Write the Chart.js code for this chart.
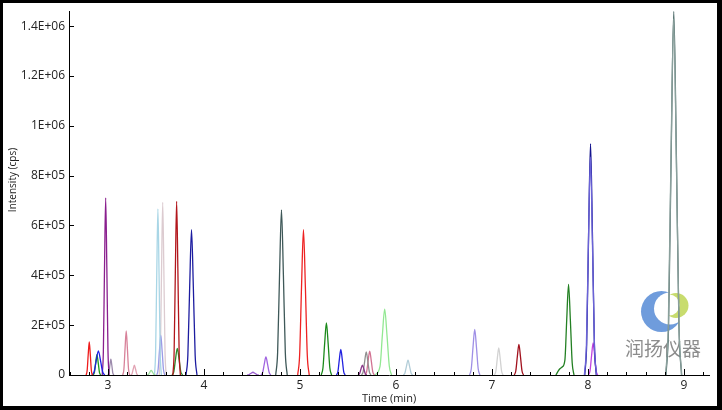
<!DOCTYPE html>
<html>
<head>
<meta charset="utf-8">
<script src="https://cdn.jsdelivr.net/npm/chart.js@4.4.1/dist/chart.umd.min.js"></script>
<style>
    html, body { margin: 0; padding: 0; background: #fff; }
    canvas { display: block; }
</style>
</head>
<body>
<canvas id="chromChart" width="722" height="410"></canvas>
<script>
// Eixos: posições dos ticks (min) e rótulos de intensidade
const xTicks = [2.6, 2.8, 3, 3.2, 3.4, 3.6, 3.8, 4, 4.2, 4.4, 4.6, 4.8, 5, 5.2, 5.4, 5.6, 5.8,
    6, 6.2, 6.4, 6.6, 6.8, 7, 7.2, 7.4, 7.6, 7.8, 8, 8.2, 8.4, 8.6, 8.8, 9, 9.2];
const yTicks = [0, 200000, 400000, 600000, 800000, 1000000, 1200000, 1400000];
const yTickLabels = ['0', '2E+05', '4E+05', '6E+05', '8E+05', '1E+06', '1.2E+06', '1.4E+06'];

// Cada traço: tempos de retenção (min) e intensidades (cps)
const t01 = [2.772, 2.783, 2.794, 2.805, 2.816, 2.827, 2.838];
const i01 = [0, 18000, 81000, 133000, 81000, 18000, 0];
const t02 = [2.834, 2.856, 2.878, 2.900, 2.922, 2.944, 2.966];
const i02 = [0, 13000, 59000, 97000, 59000, 13000, 0];
const t03 = [2.846, 2.859, 2.872, 2.885, 2.898, 2.911, 2.924];
const i03 = [0, 11000, 50000, 82000, 50000, 11000, 0];
const t04 = [2.940, 2.952, 2.964, 2.976, 2.988, 3.000, 3.012];
const i04 = [0, 96000, 432000, 711000, 432000, 96000, 0];
const t05 = [3.000, 3.010, 3.020, 3.030, 3.040, 3.050, 3.060];
const i05 = [0, 9000, 39000, 64000, 39000, 9000, 0];
const t06 = [3.154, 3.166, 3.178, 3.190, 3.202, 3.214, 3.226];
const i06 = [0, 24000, 107000, 177000, 107000, 24000, 0];
const t07 = [3.239, 3.251, 3.263, 3.275, 3.287, 3.299, 3.311];
const i07 = [0, 5000, 24000, 40000, 24000, 5000, 0];
const t08 = [3.405, 3.420, 3.435, 3.450, 3.465, 3.480, 3.495];
const i08 = [0, 2000, 11000, 18000, 11000, 2000, 0];
const t09 = [3.484, 3.496, 3.508, 3.520, 3.532, 3.544, 3.556];
const i09 = [0, 90000, 405000, 667000, 405000, 90000, 0];
const t10 = [3.508, 3.522, 3.536, 3.550, 3.564, 3.578, 3.592];
const i10 = [0, 22000, 97000, 160000, 97000, 22000, 0];
const t11 = [3.534, 3.546, 3.558, 3.570, 3.582, 3.594, 3.606];
const i11 = [0, 94000, 421000, 693000, 421000, 94000, 0];
const t12 = [3.676, 3.689, 3.702, 3.715, 3.728, 3.741, 3.754];
const i12 = [0, 94000, 423000, 697000, 423000, 94000, 0];
const t13 = [3.668, 3.686, 3.704, 3.722, 3.740, 3.758, 3.776];
const i13 = [0, 14000, 65000, 107000, 65000, 14000, 0];
const t14 = [3.813, 3.832, 3.851, 3.870, 3.889, 3.908, 3.927];
const i14 = [0, 79000, 354000, 583000, 354000, 79000, 0];
const t15 = [4.450, 4.470, 4.490, 4.510, 4.530, 4.550, 4.570];
const i15 = [0, 1500, 7000, 11000, 7000, 1500, 0];
const t16 = [4.594, 4.611, 4.628, 4.645, 4.662, 4.679, 4.696];
const i16 = [0, 10000, 44000, 73000, 44000, 10000, 0];
const t17 = [4.747, 4.767, 4.787, 4.807, 4.827, 4.847, 4.867];
const i17 = [0, 90000, 402000, 663000, 402000, 90000, 0];
const t18 = [4.976, 4.996, 5.016, 5.036, 5.056, 5.076, 5.096];
const i18 = [0, 79000, 354000, 583000, 354000, 79000, 0];
const t19 = [5.221, 5.239, 5.257, 5.275, 5.293, 5.311, 5.329];
const i19 = [0, 28000, 127000, 209000, 127000, 28000, 0];
const t20 = [5.380, 5.395, 5.410, 5.425, 5.440, 5.455, 5.470];
const i20 = [0, 14000, 63000, 103000, 63000, 14000, 0];
const t21 = [5.605, 5.620, 5.635, 5.650, 5.665, 5.680, 5.695];
const i21 = [0, 5000, 24000, 40000, 24000, 5000, 0];
const t22 = [5.642, 5.658, 5.674, 5.690, 5.706, 5.722, 5.738];
const i22 = [0, 13000, 56000, 93000, 56000, 13000, 0];
const t23 = [5.678, 5.694, 5.710, 5.726, 5.742, 5.758, 5.774];
const i23 = [0, 13000, 58000, 96000, 58000, 13000, 0];
const t24 = [5.780, 5.834, 5.858, 5.882, 5.906, 5.930, 5.954];
const i24 = [0, 36000, 160000, 264000, 160000, 36000, 0];
const t25 = [6.077, 6.093, 6.109, 6.125, 6.141, 6.157, 6.173];
const i25 = [0, 8000, 36000, 60000, 36000, 8000, 0];
const t26 = [6.766, 6.784, 6.802, 6.820, 6.838, 6.856, 6.874];
const i26 = [0, 25000, 111000, 183000, 111000, 25000, 0];
const t27 = [7.025, 7.040, 7.055, 7.070, 7.085, 7.100, 7.115];
const i27 = [0, 15000, 66000, 109000, 66000, 15000, 0];
const t28 = [7.232, 7.248, 7.264, 7.280, 7.296, 7.312, 7.328];
const i28 = [0, 17000, 75000, 123000, 75000, 17000, 0];
const t29 = [7.665, 7.700, 7.730, 7.759, 7.778, 7.797, 7.816, 7.835, 7.854];
const i29 = [0, 22000, 32000, 60000, 221000, 364000, 221000, 49000, 0];
const t30 = [7.962, 7.983, 8.004, 8.025, 8.046, 8.067, 8.088];
const i30 = [0, 118000, 530000, 875000, 530000, 118000, 0];
const t31 = [7.966, 7.986, 8.006, 8.026, 8.046, 8.066, 8.086];
const i31 = [0, 125000, 563000, 928000, 563000, 125000, 0];
const t32 = [8.005, 8.021, 8.037, 8.053, 8.069, 8.085, 8.101];
const i32 = [0, 17000, 78000, 129000, 78000, 17000, 0];
const t33 = [8.808, 8.836, 8.864, 8.892, 8.920, 8.948, 8.976];
const i33 = [0, 193000, 870000, 1430000, 870000, 193000, 0];
const t34 = [8.812, 8.839, 8.866, 8.893, 8.920, 8.947, 8.974];
const i34 = [0, 197000, 886000, 1460000, 886000, 197000, 0];

const traces = [
    [t01, i01, '#ee1c1c'], [t02, i02, '#1f1fe6'], [t03, i03, '#1e9e1e'], [t04, i04, '#8a1f8e'],
    [t05, i05, '#9c8aac'], [t06, i06, '#d8829a'], [t07, i07, '#e2a4b4'], [t08, i08, '#9ee09e'],
    [t09, i09, '#a9d6e6'], [t10, i10, '#9a9ae6'], [t11, i11, '#dccbd0'], [t12, i12, '#b2161c'],
    [t13, i13, '#2a8a2a'], [t14, i14, '#1c1ca0'], [t15, i15, '#9b5fd0'], [t16, i16, '#a064e0'],
    [t17, i17, '#3e5858'], [t18, i18, '#ee2222'], [t19, i19, '#1b8a1b'], [t20, i20, '#2222e0'],
    [t21, i21, '#8b3a8b'], [t22, i22, '#909090'], [t23, i23, '#d27292'], [t24, i24, '#92e892'],
    [t25, i25, '#b2cdd8'], [t26, i26, '#9f8fe6'], [t27, i27, '#d2d2d2'], [t28, i28, '#a2121e'],
    [t29, i29, '#238023'], [t30, i30, '#6a62d8'], [t31, i31, '#14148e'], [t32, i32, '#c244e0'],
    [t33, i33, '#8aa09c'], [t34, i34, '#4c6a68']
];

const datasets = traces.map(tr => ({
    data: tr[0].map((t, k) => ({ x: t, y: tr[1][k] })),
    borderColor: tr[2],
    borderWidth: 1.3,
    pointRadius: 0,
    fill: false,
    cubicInterpolationMode: 'monotone'
}));

// Logotipo desenhado numa tela auxiliar (crescentes recortados)
function crescent(g, outer, cut, color) {
    g.globalCompositeOperation = 'source-over';
    g.fillStyle = color;
    g.beginPath();
    g.arc(outer[0], outer[1], outer[2], 0, Math.PI * 2);
    g.fill();
    g.globalCompositeOperation = 'destination-out';
    g.beginPath();
    g.arc(cut[0], cut[1], cut[2], 0, Math.PI * 2);
    g.fill();
    g.globalCompositeOperation = 'source-over';
}

const logoCanvas = document.createElement('canvas');
logoCanvas.width = 722;
logoCanvas.height = 410;
(function () {
    const g = logoCanvas.getContext('2d');
    const blue = document.createElement('canvas');
    blue.width = 722; blue.height = 410;
    crescent(blue.getContext('2d'), [661.5, 311.5, 20.5], [670, 308.5, 16], '#6f9cdc');
    const lime = document.createElement('canvas');
    lime.width = 722; lime.height = 410;
    crescent(lime.getContext('2d'), [676, 305.5, 12.5], [669, 305, 10.5], '#c8dc6e');
    g.drawImage(blue, 0, 0);
    g.drawImage(lime, 0, 0);
})();

// Marca-d'água, título do eixo Y, ticks internos e moldura preta
const decor = {
    id: 'decor',
    beforeDatasetsDraw(chart) {
        const ctx = chart.ctx;
        ctx.save();
        ctx.drawImage(logoCanvas, 0, 0);
        ctx.fillStyle = '#8c8c8c';
        ctx.font = '19px "Noto Sans CJK SC"';
        ctx.textAlign = 'left';
        ctx.textBaseline = 'alphabetic';
        ctx.fillText('润扬仪器', 625, 356);
        ctx.restore();
    },
    afterDraw(chart) {
        const { ctx, chartArea, scales: { x, y } } = chart;
        ctx.save();
        ctx.strokeStyle = '#000';
        ctx.lineWidth = 1;
        ctx.beginPath();
        x.ticks.forEach(t => {
            const px = Math.round(x.getPixelForValue(t.value)) + 0.5;
            const len = Number.isInteger(t.value) ? 6 : 3;
            ctx.moveTo(px, chartArea.bottom);
            ctx.lineTo(px, chartArea.bottom - len);
        });
        y.ticks.forEach(t => {
            const py = Math.round(y.getPixelForValue(t.value)) + 0.5;
            ctx.moveTo(chartArea.left, py);
            ctx.lineTo(chartArea.left + 5, py);
        });
        ctx.stroke();

        ctx.translate(13, 180);
        ctx.rotate(-Math.PI / 2);
        ctx.fillStyle = '#222';
        ctx.font = '10px "Open Sans"';
        ctx.textAlign = 'center';
        ctx.textBaseline = 'middle';
        ctx.fillText('Intensity (cps)', 0, 0);
        ctx.setTransform(1, 0, 0, 1, 0, 0);

        ctx.fillStyle = '#000';
        ctx.fillRect(0, 0, 722, 3);
        ctx.fillRect(0, 0, 3, 410);
        ctx.fillRect(717, 0, 5, 410);
        ctx.fillRect(0, 406, 722, 4);
        ctx.restore();
    }
};

const ctx = document.getElementById('chromChart').getContext('2d');

new Chart(ctx, {
    type: 'line',
    data: { datasets: datasets },
    plugins: [decor],
    options: {
        responsive: false,
        animation: false,
        layout: { padding: { top: 10, right: 13, left: 0, bottom: 0 } },
        plugins: { legend: { display: false }, tooltip: { enabled: false } },
        scales: {
            x: {
                type: 'linear',
                min: 2.594,
                max: 9.26,
                afterBuildTicks: s => { s.ticks = xTicks.map(v => ({ value: v })); },
                afterFit: s => { s.height = 35; },
                grid: { display: false, drawTicks: false },
                border: { display: true, color: '#000', width: 1 },
                ticks: {
                    padding: 3,
                    color: '#222',
                    autoSkip: false,
                    maxRotation: 0,
                    font: { family: '"Open Sans"', size: 12 },
                    callback: v => Number.isInteger(v) ? String(v) : ''
                },
                title: {
                    display: true,
                    text: 'Time (min)',
                    color: '#222',
                    font: { family: '"Open Sans"', size: 11 },
                    padding: { top: 0, bottom: 5 }
                }
            },
            y: {
                min: 0,
                max: 1460000,
                afterBuildTicks: s => { s.ticks = yTicks.map(v => ({ value: v })); },
                afterFit: s => { s.width = 69; },
                grid: { display: false, drawTicks: false },
                border: { display: true, color: '#000', width: 1 },
                ticks: {
                    padding: 4,
                    color: '#222',
                    font: { family: '"Open Sans"', size: 12 },
                    callback: (v, idx) => yTickLabels[idx]
                }
            }
        }
    }
});
</script>
</body>
</html>
